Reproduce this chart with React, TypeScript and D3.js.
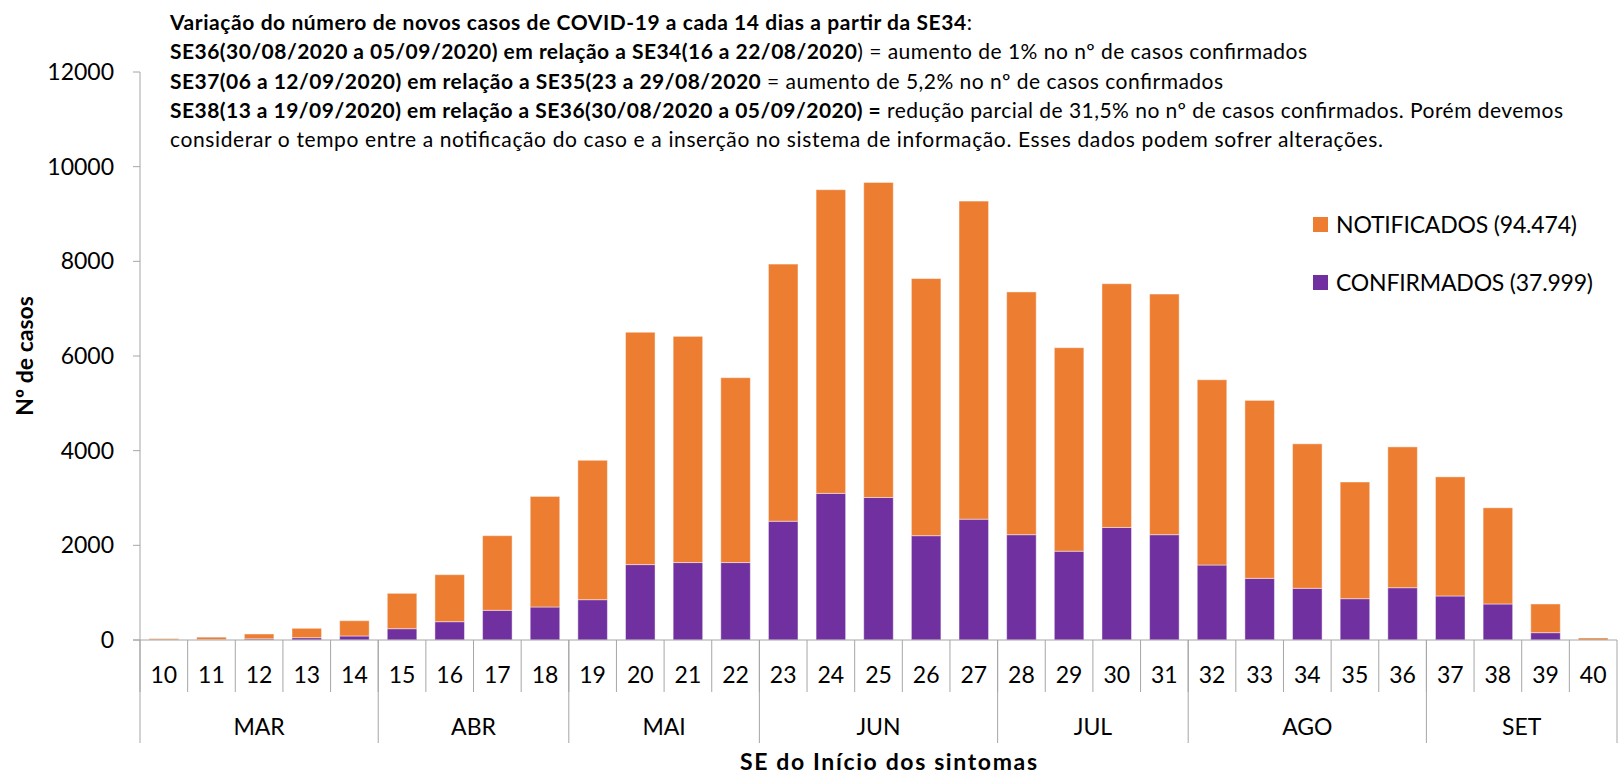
import React from 'react'
import * as d3 from 'd3'

// semanas epidemiológicas
const semanas = [10, 11, 12, 13, 14, 15, 16, 17, 18, 19, 20, 21, 22, 23, 24, 25, 26, 27, 28, 29, 30, 31, 32, 33, 34, 35, 36, 37, 38, 39, 40]
const confirmados = [5, 10, 25, 49, 85, 239, 387, 627, 697, 852, 1593, 1636, 1636, 2509, 3098, 3011, 2204, 2553, 2225, 1876, 2378, 2225, 1584, 1303, 1092, 873, 1105, 930, 761, 155, 0]
const notificados = [25, 50, 102, 198, 323, 747, 993, 1577, 2336, 2945, 4909, 4779, 3906, 5433, 6415, 6655, 5432, 6720, 5128, 4299, 5149, 5084, 3914, 3759, 3053, 2465, 2975, 2517, 2032, 606, 42]
const meses = [
  { nome: 'MAR', de: 10, ate: 14 },
  { nome: 'ABR', de: 15, ate: 18 },
  { nome: 'MAI', de: 19, ate: 22 },
  { nome: 'JUN', de: 23, ate: 27 },
  { nome: 'JUL', de: 28, ate: 31 },
  { nome: 'AGO', de: 32, ate: 36 },
  { nome: 'SET', de: 37, ate: 40 },
]
const yTicks = [0, 2000, 4000, 6000, 8000, 10000, 12000]
const legenda = [
  { key: 'notificados', label: 'NOTIFICADOS (94.474)', color: '#ED7D31', len: 241 },
  { key: 'confirmados', label: 'CONFIRMADOS (37.999)', color: '#7030A0', len: 257 },
]
// [texto, negrito]
const titulo: [string, boolean][][] = [
  [['Variação do número de novos casos de COVID-19 a cada 14 dias a partir da SE34', true], [':', false]],
  [['SE36(30/08/2020 a 05/09/2020) em relação a SE34(16 a 22/08/2020', true], [') = aumento de 1% no nº de casos confirmados', false]],
  [['SE37(06 a 12/09/2020) em relação a SE35(23 a 29/08/2020', true], [' = aumento de 5,2% no nº de casos confirmados', false]],
  [['SE38(13 a 19/09/2020) em relação a SE36(30/08/2020 a 05/09/2020) =', true], [' redução parcial de 31,5% no nº de casos confirmados. Porém devemos', false]],
  [['considerar o tempo entre a notificação do caso e a inserção no sistema de informação. Esses dados podem sofrer alterações.', false]],
]
const tituloFim = [972, 1307, 1223, 1563, 1383] // onde cada linha termina

const W = 1619
const H = 776
const left = 140
const right = 1617
const top = 72
const bottom = 640
const font = 'Lato, "Open Sans", sans-serif'
const axisColor = '#A6A6A6'

export default function App() {
  const rows = semanas.map((s, i) => ({ semana: String(s), confirmados: confirmados[i], notificados: notificados[i] }))
  const series = d3.stack<any>().keys(['confirmados', 'notificados'])(rows)
  const colors: Record<string, string> = { confirmados: '#7030A0', notificados: '#ED7D31' }

  const xCat = d3.scaleBand().domain(semanas.map(String)).range([left, right]).padding(0)
  const x = d3.scaleBand().domain(semanas.map(String)).range([left, right]).paddingInner(0.38).paddingOuter(0.19)
  const y = d3.scaleLinear().domain([0, 12000]).range([bottom, top])
  const step = xCat.step()
  const tx = 170

  return (
    <svg width={W} height={H} style={{ position: 'absolute', left: 0, top: 0, background: '#fff' }} fontFamily={font}>
      {/* título */}
      {titulo.map((linha, i) => (
        <text key={i} x={tx} y={30 + i * 29.3} fontSize={21} fill="#000" textLength={tituloFim[i] - tx} lengthAdjust="spacing">
          {linha.map(([t, b], j) => (
            <tspan key={j} fontWeight={b ? 'bold' : 'normal'}>{t}</tspan>
          ))}
        </text>
      ))}

      {/* eixo y */}
      <line x1={left} x2={left} y1={y(12000)} y2={bottom} stroke={axisColor} />
      {yTicks.map((t) => (
        <g key={t}>
          <line x1={left - 7} x2={left} y1={y(t)} y2={y(t)} stroke={axisColor} />
          <text x={left - 26} y={y(t)} dy="0.35em" textAnchor="end" fontSize={23}>{t}</text>
        </g>
      ))}
      <text transform={`translate(33,${(top + bottom) / 2}) rotate(-90)`} textAnchor="middle" fontSize={23} fontWeight="bold">Nº de casos</text>

      {/* barras */}
      {series.map((s) => (
        <g key={s.key} fill={colors[s.key]}>
          {s.map((d: any) => (
            <rect
              key={d.data.semana}
              x={x(d.data.semana)}
              width={x.bandwidth()}
              y={y(d[1])}
              height={Math.max(0, y(d[0]) - y(d[1]))}
              stroke="#fff"
              strokeOpacity={0.45}
              strokeWidth={1}
            />
          ))}
        </g>
      ))}

      {/* eixo x */}
      <line x1={left - 7} x2={right} y1={bottom} y2={bottom} stroke={axisColor} />
      {semanas.map((s) => (
        <g key={s}>
          <line x1={xCat(String(s))} x2={xCat(String(s))} y1={bottom} y2={692} stroke={axisColor} />
          <text x={xCat(String(s))! + step / 2} y={675} dy="0.35em" textAnchor="middle" fontSize={23}>{s}</text>
        </g>
      ))}
      <line x1={right} x2={right} y1={bottom} y2={743} stroke={axisColor} />
      {meses.map((m) => {
        const x0 = xCat(String(m.de))!
        const x1 = xCat(String(m.ate))! + step
        return (
          <g key={m.nome}>
            <line x1={x0} x2={x0} y1={bottom} y2={743} stroke={axisColor} />
            <text x={(x0 + x1) / 2} y={727} dy="0.35em" textAnchor="middle" fontSize={23}>{m.nome}</text>
          </g>
        )
      })}
      <text x={740} y={770} fontSize={23} fontWeight="bold" textLength={297} lengthAdjust="spacing">SE do Início dos sintomas</text>

      {/* legenda */}
      {legenda.map((l, i) => (
        <g key={l.key} transform={`translate(1313,${217 + i * 58})`}>
          <rect width={15} height={15} fill={l.color} />
          <text x={23} y={8} dy="0.35em" fontSize={23} textLength={l.len} lengthAdjust="spacing">{l.label}</text>
        </g>
      ))}
    </svg>
  )
}
